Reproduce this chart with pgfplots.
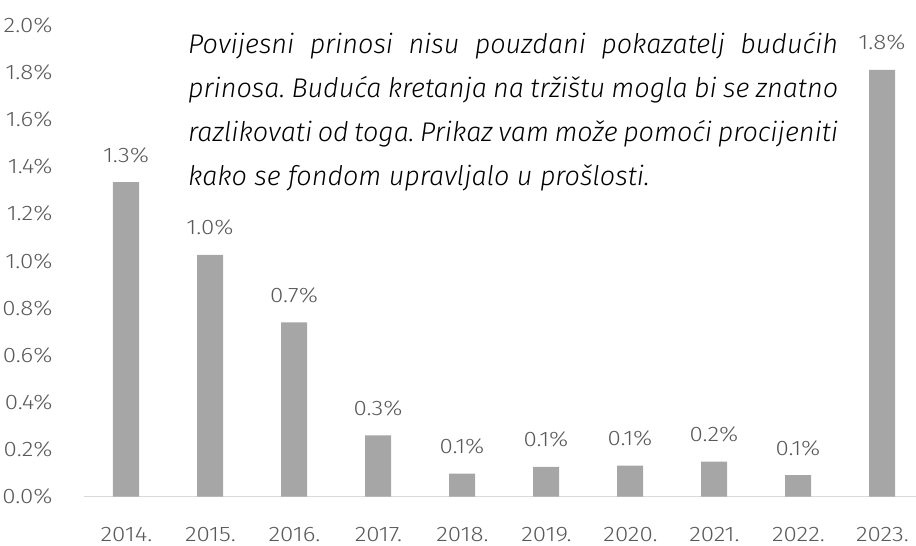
\documentclass[border=0pt]{standalone}
\usepackage{fontspec}
\setmainfont{Fira Sans}[UprightFont=* Light, ItalicFont=* Light Italic]
\newfontfamily\labfont{Fira Sans}[UprightFont=* Light, FakeStretch=1.15]
\usepackage{pgfplots}
\pgfplotsset{compat=1.18}
\definecolor{barGrey}{HTML}{A6A6A6}
\definecolor{labGrey}{HTML}{595959}
\definecolor{lineGrey}{HTML}{D9D9D9}

\pgfplotstableread{
x  y     lab
0  1.334 1.3\%
1  1.026 1.0\%
2  0.739 0.7\%
3  0.260 0.3\%
4  0.098 0.1\%
5  0.126 0.1\%
6  0.132 0.1\%
7  0.149 0.2\%
8  0.092 0.1\%
9  1.810 1.8\%
}\returns

\begin{document}
\frenchspacing
\begin{tikzpicture}[x=1pt,y=1pt]
\useasboundingbox (0,0) rectangle (916,546);
\begin{axis}[
  at={(84pt,49.3pt)}, anchor=south west,
  scale only axis,
  width=831.6pt, height=471.5pt,
  xmin=-0.5, xmax=9.4,
  ymin=0, ymax=2.0,
  ytick={0,0.2,...,2.0},
  xtick=data,
  xticklabels={2014.,2015.,2016.,2017.,2018.,2019.,2020.,2021.,2022.,2023.},
  major tick length=0pt,
  axis x line*=bottom,
  axis y line*=left,
  x axis line style={lineGrey, line width=1.5pt, -},
  y axis line style={draw=none},
  /pgf/number format/assume math mode=true,
  yticklabel={\pgfmathprintnumber[fixed,fixed zerofill,precision=1]{\tick}\%},
  ticklabel style={font=\labfont\fontsize{21}{24}\selectfont, text=labGrey},
  xticklabel style={anchor=base, yshift=-44.5pt, xshift=0.5pt},
  yticklabel style={anchor=east, xshift=-28pt},
  clip=false,
]
  \addplot[ybar, bar width=26pt, fill=barGrey, draw=none,
    nodes near coords,
    point meta=explicit symbolic,
    every node near coord/.style={anchor=base, yshift=20pt, inner sep=0pt,
      font=\labfont\fontsize{21}{24}\selectfont, text=labGrey}]
    table[x=x, y=y, meta=lab] {\returns};
  \node[anchor=north west, inner sep=0pt, text width=650pt, align=justify,
        font=\fontsize{27}{44}\selectfont\itshape, text=black]
    at (rel axis cs:0,1) [xshift=104pt, yshift=-7pt]
    {Povijesni prinosi nisu pouzdani pokazatelj budućih\linebreak
     prinosa. Buduća kretanja na tržištu mogla bi se znatno\linebreak
     razlikovati od toga. Prikaz vam može pomoći procijeniti\linebreak
     kako se fondom upravljalo u prošlosti.};
\end{axis}
\end{tikzpicture}
\end{document}
